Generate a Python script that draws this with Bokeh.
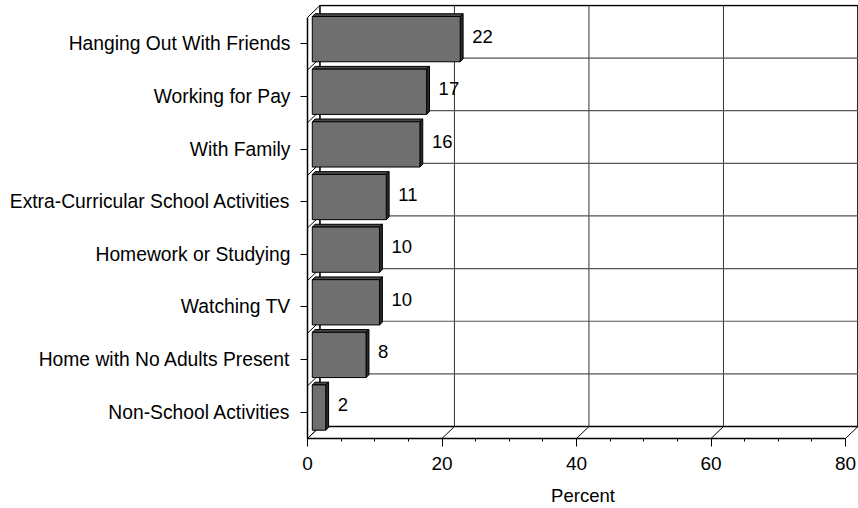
from bokeh.plotting import figure
from bokeh.models import Range1d, FixedTicker
from bokeh.embed import file_html
from bokeh.resources import INLINE
from bokeh.core.properties import value

# ---- data ----
categories = [
    "Hanging Out With Friends",
    "Working for Pay",
    "With Family",
    "Extra-Curricular School Activities",
    "Homework or Studying",
    "Watching TV",
    "Home with No Adults Present",
    "Non-School Activities",
]
percents = [22, 17, 16, 11, 10, 10, 8, 2]
x_ticks = [0, 20, 40, 60, 80]
x_minor = list(range(0, 81, 5))
x_label = "Percent"

# ---- 3D geometry (data units) ----
n = len(categories)
XMAX = 80
DX = 1.85      # depth shift along x
DY = 0.228     # depth shift along y (category units)
F0, F1 = 0.385, 0.615  # bar front / back depth fractions
BAR_H = 0.86
FONT = "Liberation Sans"

p = figure(width=858, height=508, output_backend="svg", toolbar_location=None,
           x_range=Range1d(0, 81.93), y_range=Range1d(-0.5, -0.5 + 8.246),
           min_border_left=307, min_border_right=0, min_border_top=4,
           min_border_bottom=69)
p.outline_line_color = None
p.grid.visible = False
p.background_fill_color = "white"

# back wall
p.quad(left=[DX], right=[XMAX + DX], bottom=[-0.5 + DY], top=[n - 0.5 + DY],
       fill_color="white", line_color="black", line_width=1.6)

# back wall grid lines
vx = [t + DX for t in x_ticks[1:-1]]
p.segment(x0=vx, y0=[-0.5 + DY] * len(vx), x1=vx, y1=[n - 0.5 + DY] * len(vx),
          line_color="#333333", line_width=1)
hy = [k - 0.5 + DY for k in range(1, n)]
p.segment(x0=[DX] * len(hy), y0=hy, x1=[XMAX + DX] * len(hy), y1=hy,
          line_color="#555555", line_width=1.2)

# floor diagonals
p.segment(x0=x_ticks, y0=[-0.5] * len(x_ticks),
          x1=[t + DX for t in x_ticks], y1=[-0.5 + DY] * len(x_ticks),
          line_color="black", line_width=1)
# side wall diagonals
sy = [k - 0.5 for k in range(n + 1)]
p.segment(x0=[0] * len(sy), y0=sy, x1=[DX] * len(sy), y1=[y + DY for y in sy],
          line_color="black", line_width=1)

# bars
top_xs, top_ys, side_xs, side_ys = [], [], [], []
fl, fr, fb, ft = [], [], [], []
lx, ly, lt = [], [], []
dd = (F1 - F0) * DY
for j, v in enumerate(percents):
    c = n - 1 - j
    x0 = F0 * DX
    x1 = v + F0 * DX
    b = c - BAR_H / 2 + F0 * DY
    t = c + BAR_H / 2 + F0 * DY
    fl.append(x0); fr.append(x1); fb.append(b); ft.append(t)
    top_xs.append([x0, x1, v + F1 * DX, F1 * DX])
    top_ys.append([t, t, t + dd, t + dd])
    side_xs.append([x1, v + F1 * DX, v + F1 * DX, x1])
    side_ys.append([b, b + dd, t + dd, t])
    lx.append(x1); ly.append(c + F0 * DY); lt.append(str(v))

p.patches(xs=top_xs, ys=top_ys, fill_color="#4a4a4a", line_color="black", line_width=1)
p.patches(xs=side_xs, ys=side_ys, fill_color="#2a2a2a", line_color="black", line_width=1)
p.quad(left=fl, right=fr, bottom=fb, top=ft, fill_color="#6f6f6f",
       line_color="black", line_width=1)

p.text(x=lx, y=ly, text=lt, x_offset=12, y_offset=-3, text_align="left",
       text_baseline="middle", text_font_size="18.5px", text_color="black",
       text_font=value(FONT))

# x axis
xa = p.xaxis[0]
xa.ticker = FixedTicker(ticks=x_ticks, minor_ticks=x_minor)
xa.bounds = (0, XMAX)
xa.axis_line_color = "black"
xa.axis_line_width = 1.5
xa.major_tick_in = 0
xa.major_tick_out = 8
xa.minor_tick_in = 0
xa.minor_tick_out = 3
xa.major_tick_line_color = "black"
xa.minor_tick_line_color = "black"
xa.major_label_text_font = FONT
xa.major_label_text_font_size = "19px"
xa.major_label_text_color = "black"
xa.major_label_standoff = 10
xa.axis_label = x_label
xa.axis_label_text_font = FONT
xa.axis_label_text_font_style = "normal"
xa.axis_label_text_font_size = "18.5px"
xa.axis_label_text_color = "black"
xa.axis_label_standoff = 12

# y axis (categories)
ya = p.yaxis[0]
ya.ticker = FixedTicker(ticks=list(range(n)), minor_ticks=[])
ya.major_label_overrides = {n - 1 - j: cat for j, cat in enumerate(categories)}
ya.bounds = (-0.5, n - 0.5)
ya.axis_line_color = "black"
ya.axis_line_width = 1.5
ya.major_tick_in = 0
ya.major_tick_out = 7
ya.major_tick_line_color = "black"
ya.major_label_text_font = FONT
ya.major_label_text_font_size = "19.3px"
ya.major_label_text_color = "black"
ya.major_label_standoff = 10

open("out.html", "w").write(file_html(p, INLINE))
